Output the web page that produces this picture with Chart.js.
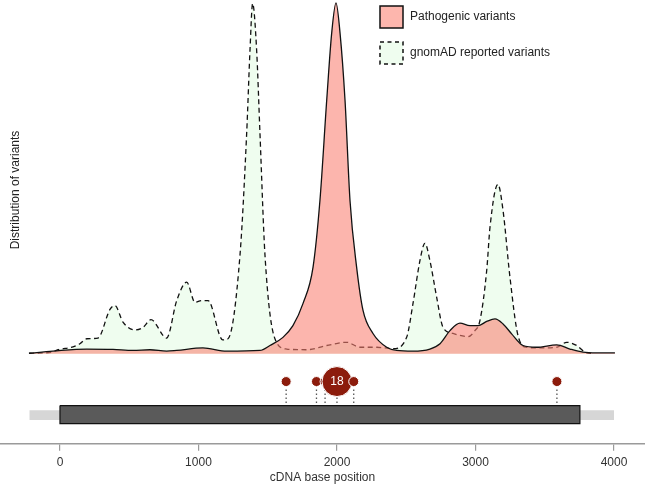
<!DOCTYPE html>
<html>
<head>
<meta charset="utf-8">
<script src="https://cdn.jsdelivr.net/npm/chart.js@4.4.1/dist/chart.umd.min.js"></script>
<style>
  html, body { margin: 0; padding: 0; background: #ffffff; }
  canvas { display: block; }
</style>
</head>
<body>
<canvas id="c" width="645" height="485"></canvas>
<script>
// ---------- data ----------
const xTicks = [0, 1000, 2000, 3000, 4000];

const gnomadPos = [-222, -60, -14, 94, 144, 193, 274, 361, 397, 455, 542, 599, 657, 770, 843, 915, 975, 1023, 1069, 1175, 1213, 1300, 1348, 1372, 1391, 1420, 1444, 1480, 1552, 1637, 1781, 1926, 2070, 2166, 2287, 2404, 2503, 2549, 2599, 2635, 2671, 2720, 2765, 2838, 2946, 2996, 3032, 3081, 3105, 3162, 3199, 3249, 3307, 3370, 3466, 3586, 3658, 3731, 3791, 3850];
const gnomadDensity = [0.001, 0.004, 0.011, 0.019, 0.028, 0.042, 0.044, 0.125, 0.136, 0.089, 0.067, 0.074, 0.096, 0.044, 0.150, 0.202, 0.145, 0.150, 0.150, 0.039, 0.042, 0.280, 0.623, 0.858, 0.990, 0.858, 0.623, 0.280, 0.042, 0.013, 0.011, 0.023, 0.032, 0.018, 0.018, 0.014, 0.046, 0.142, 0.263, 0.312, 0.263, 0.159, 0.075, 0.057, 0.048, 0.065, 0.093, 0.235, 0.358, 0.479, 0.405, 0.216, 0.051, 0.018, 0.016, 0.018, 0.032, 0.023, 0.004, 0.000];

const pathoPos = [-224, -51, 193, 383, 527, 650, 770, 843, 1032, 1204, 1444, 1516, 1610, 1682, 1755, 1827, 1877, 1926, 1962, 1993, 2022, 2058, 2094, 2142, 2188, 2260, 2359, 2431, 2549, 2671, 2744, 2816, 2888, 2960, 3018, 3081, 3141, 3199, 3261, 3343, 3442, 3586, 3682, 3776, 3875, 4007];
const pathoDensity = [0.001, 0.007, 0.013, 0.012, 0.009, 0.011, 0.007, 0.009, 0.016, 0.007, 0.009, 0.023, 0.046, 0.079, 0.142, 0.244, 0.433, 0.717, 0.907, 0.992, 0.907, 0.717, 0.433, 0.244, 0.122, 0.057, 0.018, 0.009, 0.007, 0.013, 0.028, 0.065, 0.086, 0.079, 0.079, 0.091, 0.098, 0.084, 0.056, 0.023, 0.018, 0.025, 0.013, 0.004, 0.002, 0.002];

const mutationPos = [1633, 1852, 1914, 2000, 2121, 3588];
const mutationCount = [1, 1, 1, 18, 1, 1];

const cdsRange = [0, 3754];
const transcriptRange = [-220, 4000];

// ---------- layout constants (track levels on the y scale) ----------
const TRACK = { head: -0.079, boxTop: -0.147, boxBottom: -0.198, bandTop: -0.160, bandBottom: -0.188 };
const FONT = "'Liberation Sans', Arial, Helvetica, sans-serif";

const rect = (a, b, top, bottom) => [
  { x: a, y: top }, { x: b, y: top }, { x: b, y: bottom }, { x: a, y: bottom }, { x: a, y: top }
];

const stemDatasets = mutationPos.map(p => ({
  type: 'line',
  data: [{ x: p, y: TRACK.head }, { x: p, y: TRACK.boxTop }],
  borderColor: '#555555',
  borderWidth: 1.3,
  borderDash: [1.5, 2.5],
  pointRadius: 0,
  fill: false,
  order: 8,
  isHelper: true
}));

const datasets = [
  {
    label: 'Pathogenic variants',
    data: pathoPos.map((x, i) => ({ x, y: pathoDensity[i] })),
    borderColor: '#111111',
    borderWidth: 1.3,
    backgroundColor: 'rgba(250,128,114,0.58)',
    fill: 'origin',
    cubicInterpolationMode: 'monotone',
    pointRadius: 0,
    order: 5,
    legendStyle: 'solid'
  },
  {
    label: 'gnomAD reported variants',
    data: gnomadPos.map((x, i) => ({ x, y: gnomadDensity[i] })),
    borderColor: '#111111',
    borderWidth: 1.3,
    borderDash: [5, 3.5],
    backgroundColor: '#effdef',
    fill: 'origin',
    cubicInterpolationMode: 'monotone',
    pointRadius: 0,
    order: 6,
    legendStyle: 'dashed'
  },
  {
    data: rect(transcriptRange[0], transcriptRange[1], TRACK.bandTop, TRACK.bandBottom),
    borderWidth: 0,
    borderColor: 'rgba(0,0,0,0)',
    backgroundColor: '#d6d6d6',
    fill: 'shape',
    tension: 0,
    pointRadius: 0,
    order: 10,
    isHelper: true
  },
  {
    data: rect(cdsRange[0], cdsRange[1], TRACK.boxTop, TRACK.boxBottom),
    borderWidth: 1.2,
    borderColor: '#111111',
    backgroundColor: '#5a5a5a',
    fill: 'shape',
    tension: 0,
    pointRadius: 0,
    order: 9,
    isHelper: true
  },
  ...stemDatasets,
  {
    type: 'scatter',
    data: mutationPos.map(p => ({ x: p, y: TRACK.head })),
    showLine: false,
    pointRadius: ctx => (mutationCount[ctx.dataIndex] > 1 ? 15 : 5),
    pointBackgroundColor: '#8c1c0c',
    pointBorderColor: '#ffffff',
    pointBorderWidth: 1,
    order: 1,
    isHelper: true,
    isHeads: true
  }
];

// ---------- plugins ----------
const extras = {
  id: 'extras',
  afterDatasetsDraw(chart) {
    const ctx = chart.ctx;
    chart.data.datasets.forEach((ds, di) => {
      if (!ds.isHeads) return;
      const meta = chart.getDatasetMeta(di);
      meta.data.forEach((el, j) => {
        if (mutationCount[j] > 1) {
          ctx.save();
          ctx.fillStyle = '#ffffff';
          ctx.font = '12px ' + FONT;
          ctx.textAlign = 'center';
          ctx.textBaseline = 'middle';
          ctx.fillText(String(mutationCount[j]), el.x, el.y + 0.5);
          ctx.restore();
        }
      });
    });
  },
  afterDraw(chart) {
    const ctx = chart.ctx;
    // y axis title
    ctx.save();
    ctx.translate(16, 190);
    ctx.rotate(-Math.PI / 2);
    ctx.fillStyle = '#222222';
    ctx.font = '12px ' + FONT;
    ctx.textAlign = 'center';
    ctx.textBaseline = 'middle';
    ctx.fillText('Distribution of variants', 0, 0);
    ctx.restore();

    // legend
    const items = chart.data.datasets.filter(d => d.legendStyle);
    items.forEach((d, i) => {
      const bx = 380, by = 6 + i * 36, bw = 23, bh = 22;
      ctx.save();
      ctx.fillStyle = d.legendStyle === 'solid' ? '#fdb6ad' : d.backgroundColor;
      ctx.fillRect(bx, by, bw, bh);
      ctx.strokeStyle = '#111111';
      ctx.lineWidth = 1.5;
      if (d.legendStyle === 'dashed') ctx.setLineDash([4, 3.5]);
      ctx.strokeRect(bx, by, bw, bh);
      ctx.setLineDash([]);
      ctx.fillStyle = '#222222';
      ctx.font = '12px ' + FONT;
      ctx.textAlign = 'left';
      ctx.textBaseline = 'middle';
      ctx.fillText(d.label, 410, by + bh / 2);
      ctx.restore();
    });
  }
};

new Chart(document.getElementById('c'), {
  type: 'line',
  data: { datasets },
  plugins: [extras],
  options: {
    responsive: false,
    animation: false,
    events: [],
    layout: { padding: 0, autoPadding: false },
    plugins: {
      legend: { display: false },
      tooltip: { enabled: false },
      filler: { propagate: false }
    },
    scales: {
      x: {
        type: 'linear',
        min: -433,
        max: 4224,
        afterBuildTicks: axis => { axis.ticks = xTicks.map(v => ({ value: v })); },
        ticks: {
          color: '#333333',
          font: { family: FONT, size: 12 },
          padding: 5,
          maxRotation: 0,
          autoSkip: false,
          callback: v => String(v)
        },
        grid: { display: true, drawOnChartArea: false, drawTicks: true, tickLength: 7, color: '#9a9a9a', lineWidth: 1.2 },
        border: { display: true, color: '#9a9a9a', width: 1.5 },
        title: {
          display: true,
          text: 'cDNA base position',
          color: '#333333',
          font: { family: FONT, size: 12 },
          padding: { top: -4.6, bottom: 0 }
        }
      },
      y: {
        type: 'linear',
        display: false,
        min: -0.255,
        max: 1
      }
    }
  }
});
</script>
</body>
</html>
